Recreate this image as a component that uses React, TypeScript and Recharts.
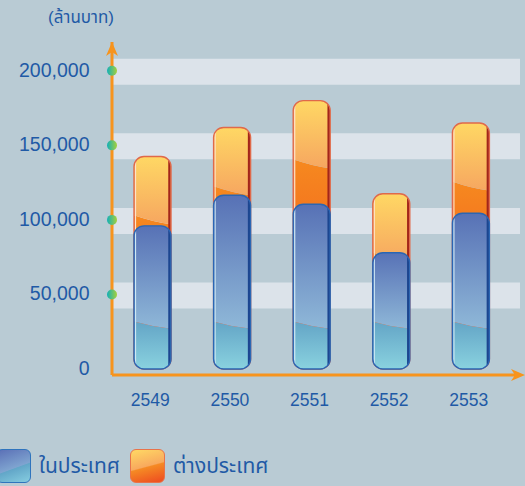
import { Bar, BarChart, CartesianGrid, Legend, XAxis, YAxis } from 'recharts';

const years = ['2549', '2550', '2551', '2552', '2553'];
const domestic = [96000, 116500, 110500, 78000, 104500];
const foreign = [46500, 45500, 69500, 39500, 60500];
const yTicks = [0, 50000, 100000, 150000, 200000];
const seriesNames = ['ในประเทศ', 'ต่างประเทศ'];
const unitLabel = '(ล้านบาท)';

const data = years.map((year, i) => ({
  year,
  domestic: domestic[i],
  total: domestic[i] + foreign[i],
}));

const COLORS = {
  bg: '#b9cbd4',
  band: '#dce3ea',
  axis: '#f7941d',
  text: '#1f5aa6',
};

const FONT = '"Liberation Sans", "Noto Sans Thai", "Noto Sans", sans-serif';

function roundedPath(x: number, y: number, w: number, h: number, r: number) {
  const rr = Math.min(r, w / 2, h / 2);
  return `M${x + rr},${y} H${x + w - rr} A${rr},${rr} 0 0 1 ${x + w},${y + rr} V${y + h - rr} A${rr},${rr} 0 0 1 ${x + w - rr},${y + h} H${x + rr} A${rr},${rr} 0 0 1 ${x},${y + h - rr} V${y + rr} A${rr},${rr} 0 0 1 ${x + rr},${y} Z`;
}

function GlossyBar(props: any) {
  const { x, y, width: w, height: h, index, kind } = props;
  if (!h || h <= 0) return null;
  const blue = kind === 'blue';
  const d = roundedPath(x, y, w, h, 10);
  const clipId = `clip-${kind}-${index}`;
  const yl = blue ? y + h - 48 : y + 58;
  const yr = blue ? y + h - 40 : y + 68;
  const mid = yl + (yr - yl) * 0.75;
  const lower = `M${x - 2},${yl} Q${x + w * 0.5},${mid} ${x + w + 2},${yr} V${y + h + 2} H${x - 2} Z`;
  const upper = `M${x - 2},${y - 2} H${x + w + 2} V${yr} Q${x + w * 0.5},${mid} ${x - 2},${yl} Z`;
  return (
    <g>
      <defs>
        <clipPath id={clipId}>
          <path d={d} />
        </clipPath>
      </defs>
      <g clipPath={`url(#${clipId})`}>
        <path d={lower} fill={blue ? 'url(#blueLow)' : 'url(#orangeLow)'} />
        <path d={upper} fill={blue ? 'url(#blueTop)' : 'url(#orangeTop)'} />
        <line
          x1={x + w - 1.5}
          x2={x + w - 1.5}
          y1={y}
          y2={y + h}
          stroke={blue ? '#1c4690' : '#a3261a'}
          strokeWidth={2.5}
        />
        <line
          x1={x + 1.5}
          x2={x + 1.5}
          y1={y}
          y2={y + h}
          stroke={blue ? '#cfe8f4' : '#ffe2c8'}
          strokeWidth={1.2}
        />
      </g>
      <path d={d} fill="none" stroke={blue ? '#2b66b3' : '#e0694a'} strokeWidth={1.4} />
    </g>
  );
}

function YTick(props: any) {
  const { x, y, payload } = props;
  return (
    <g>
      <text
        x={x - 22.5}
        y={y - 1}
        textAnchor="end"
        dominantBaseline="central"
        fill={COLORS.text}
        fontSize={19.5}
        fontFamily={FONT}
      >
        {payload.value === 0 ? '0' : payload.value.toLocaleString('en-US')}
      </text>
      {payload.value !== 0 && <circle cx={x} cy={y} r={5} fill="url(#dotGrad)" />}
    </g>
  );
}

function XTick(props: any) {
  const { x, y, payload } = props;
  return (
    <text
      x={x - 2.5}
      y={y + 25}
      textAnchor="middle"
      dominantBaseline="central"
      fill={COLORS.text}
      fontSize={17.5}
      fontFamily={FONT}
    >
      {payload.value}
    </text>
  );
}

function YArrow(props: any) {
  const vb = props.viewBox;
  if (!vb) return null;
  const cx = vb.x + vb.width;
  const top = vb.y;
  return (
    <g>
      <path
        d={`M${cx},${top} L${cx + 6},${top + 14} L${cx},${top + 10} L${cx - 6},${top + 14} Z`}
        fill={COLORS.axis}
      />
      <text
        x={cx + 2}
        y={top - 25}
        textAnchor="end"
        dominantBaseline="central"
        fill={COLORS.text}
        fontSize={17}
        fontFamily={FONT}
      >
        {unitLabel}
      </text>
    </g>
  );
}

function XArrow(props: any) {
  const vb = props.viewBox;
  if (!vb) return null;
  const tip = vb.x + vb.width + 8;
  const cy = vb.y;
  return (
    <path
      d={`M${tip},${cy} L${tip - 14},${cy - 6} L${tip - 10},${cy} L${tip - 14},${cy + 6} Z`}
      fill={COLORS.axis}
    />
  );
}

function Band(props: any) {
  const { x1, x2, y1, y2 } = props;
  return <line x1={x1} x2={x2 + 3} y1={y1 + 1} y2={y2 + 1} stroke={COLORS.band} strokeWidth={26} />;
}

const swatchBg = [
  'linear-gradient(160deg, #5a6fb6 0%, #7fa4d0 55%, #62a6c8 57%, #86cde0 100%)',
  'linear-gradient(165deg, #ffd964 0%, #f8a95e 50%, #f58a24 53%, #ee4a20 100%)',
];
const swatchBorder = ['#2f74bd', '#e8734a'];

function LegendContent() {
  return (
    <div style={{ display: 'flex', alignItems: 'center', fontFamily: FONT, fontSize: 21, color: COLORS.text }}>
      {seriesNames.map((name, i) => (
        <div key={name} style={{ display: 'flex', alignItems: 'center', width: i === 0 ? 134 : 200 }}>
          <div
            style={{
              width: 33,
              height: 32,
              borderRadius: 6,
              background: swatchBg[i],
              border: `1.5px solid ${swatchBorder[i]}`,
            }}
          />
          <span style={{ marginLeft: 8 }}>{name}</span>
        </div>
      ))}
    </div>
  );
}

export default function App() {
  return (
    <div style={{ position: 'absolute', left: 0, top: 0, width: 525, height: 486, background: COLORS.bg }}>
      <BarChart
        width={525}
        height={486}
        data={data}
        margin={{ top: 42, right: 8, bottom: 81, left: 0 }}
        barGap={-37}
      >
        <defs>
          <linearGradient id="blueTop" x1="0" y1="0" x2="0" y2="1">
            <stop offset="0%" stopColor="#5670b5" />
            <stop offset="100%" stopColor="#8fb8d8" />
          </linearGradient>
          <linearGradient id="blueLow" x1="0" y1="0" x2="0" y2="1">
            <stop offset="0%" stopColor="#63a4c6" />
            <stop offset="100%" stopColor="#8bd4e0" />
          </linearGradient>
          <linearGradient id="orangeTop" x1="0" y1="0" x2="0" y2="1">
            <stop offset="0%" stopColor="#ffd964" />
            <stop offset="100%" stopColor="#f6a660" />
          </linearGradient>
          <linearGradient id="orangeLow" x1="0" y1="0" x2="0" y2="1">
            <stop offset="0%" stopColor="#f6891f" />
            <stop offset="100%" stopColor="#ee4420" />
          </linearGradient>
          <linearGradient id="dotGrad" x1="0" y1="0" x2="1" y2="0">
            <stop offset="0%" stopColor="#12b0b8" />
            <stop offset="100%" stopColor="#a6d03a" />
          </linearGradient>
        </defs>
        <CartesianGrid vertical={false} horizontalValues={yTicks.slice(1)} horizontal={Band} />
        <XAxis
          dataKey="year"
          height={30}
          padding={{ left: 1, right: 6 }}
          axisLine={{ stroke: COLORS.axis, strokeWidth: 3 }}
          tickLine={false}
          tickSize={0}
          tickMargin={0}
          tick={XTick}
          label={XArrow}
        />
        <YAxis
          width={112}
          domain={[-4000, 219300]}
          ticks={yTicks}
          allowDataOverflow
          axisLine={{ stroke: COLORS.axis, strokeWidth: 3 }}
          tickLine={false}
          tickSize={0}
          tickMargin={0}
          tick={YTick}
          label={YArrow}
        />
        <Legend
          layout="horizontal"
          verticalAlign="middle"
          align="center"
          content={LegendContent}
          wrapperStyle={{ left: -4, top: 449, width: 420 }}
        />
        <Bar
          dataKey="total"
          name={seriesNames[1]}
          barSize={37}
          isAnimationActive={false}
          shape={(p: any) => <GlossyBar {...p} kind="orange" />}
        />
        <Bar
          dataKey="domestic"
          name={seriesNames[0]}
          barSize={37}
          isAnimationActive={false}
          shape={(p: any) => <GlossyBar {...p} kind="blue" />}
        />
      </BarChart>
    </div>
  );
}
